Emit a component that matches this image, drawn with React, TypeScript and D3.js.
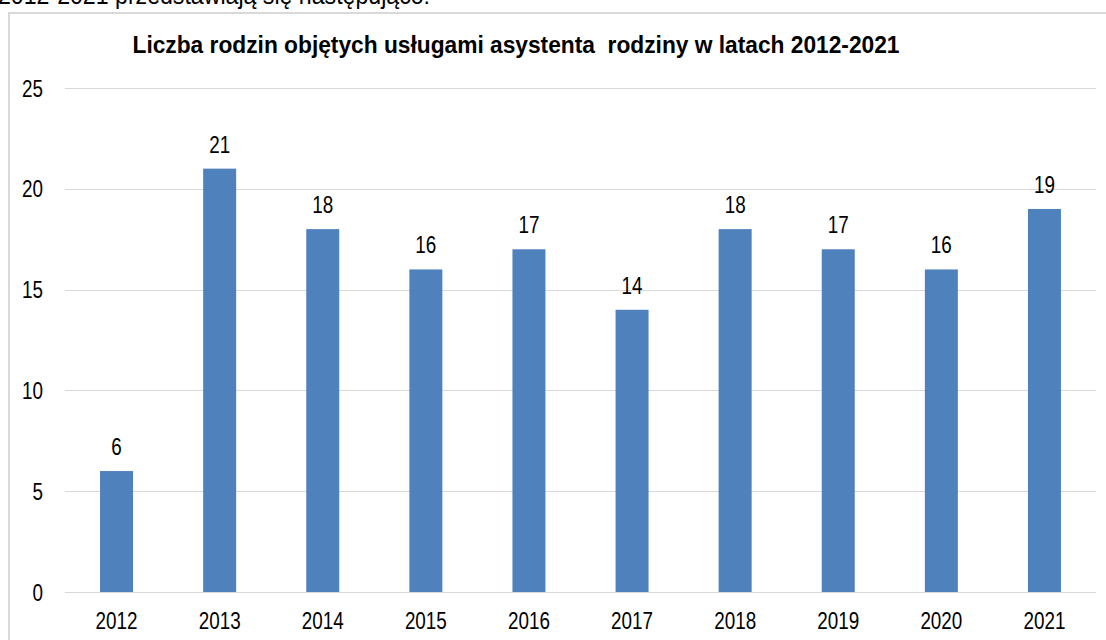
import React from "react";
import * as d3 from "d3";

const years = ["2012","2013","2014","2015","2016","2017","2018","2019","2020","2021"];
const values = [6,21,18,16,17,14,18,17,16,19];
const yTicks = [0,5,10,15,20,25];
const title = "Liczba rodzin objętych usługami asystenta  rodziny w latach 2012-2021";
const topText = "2012-2021 przedstawiają się następująco:";

const W = 1106, H = 640;
const FONT = "'Liberation Sans', Arial, sans-serif";
const SX = 0.82;

function NText({ x, y, anchor = "middle", size = 23, bold = false, len, children }: any) {
  return (
    <g transform={`translate(${x},${y}) scale(${SX},1)`}>
      <text x={0} y={0} textAnchor={anchor} fontFamily={FONT} fontSize={size} fontWeight={bold ? "bold" : "normal"} fill="#000"
        textLength={len ? len / SX : undefined} lengthAdjust={len ? "spacingAndGlyphs" : undefined} style={{ whiteSpace: "pre" }}>
        {children}
      </text>
    </g>
  );
}

export default function App() {
  const x = d3.scaleBand<string>().domain(years).range([65, 1096]).paddingInner(0.68).paddingOuter(0.34);
  const y = d3.scaleLinear().domain([0, 25]).range([592, 88]);
  return (
    <div style={{ position: "absolute", left: 0, top: 0 }}>
      <svg width={W} height={H} style={{ display: "block", background: "#fff" }}>
        <text x={-2} y={4} fontFamily={FONT} fontSize={26} fill="#000" textLength={432} lengthAdjust="spacingAndGlyphs">{topText}</text>
        <rect x={9} y={13} width={1200} height={700} fill="none" stroke="#d9d9d9" strokeWidth={2} />
        <NText x={516} y={53} bold size={23} len={767}>{title}</NText>
        {yTicks.map(t => (
          <g key={t}>
            <line x1={65} x2={1096} y1={Math.round(y(t)) + 0.5} y2={Math.round(y(t)) + 0.5} stroke="#d9d9d9" strokeWidth={1} />
            <NText x={43} y={y(t) + 8.5} anchor="end">{t}</NText>
          </g>
        ))}
        {years.map((yr, i) => (
          <g key={yr}>
            <rect x={x(yr)} y={y(values[i])} width={x.bandwidth()} height={y(0) - y(values[i])} fill="#4f81bd" />
            <NText x={(x(yr) as number) + x.bandwidth() / 2} y={y(values[i]) - 16}>{values[i]}</NText>
            <NText x={(x(yr) as number) + x.bandwidth() / 2} y={629}>{yr}</NText>
          </g>
        ))}
      </svg>
    </div>
  );
}
